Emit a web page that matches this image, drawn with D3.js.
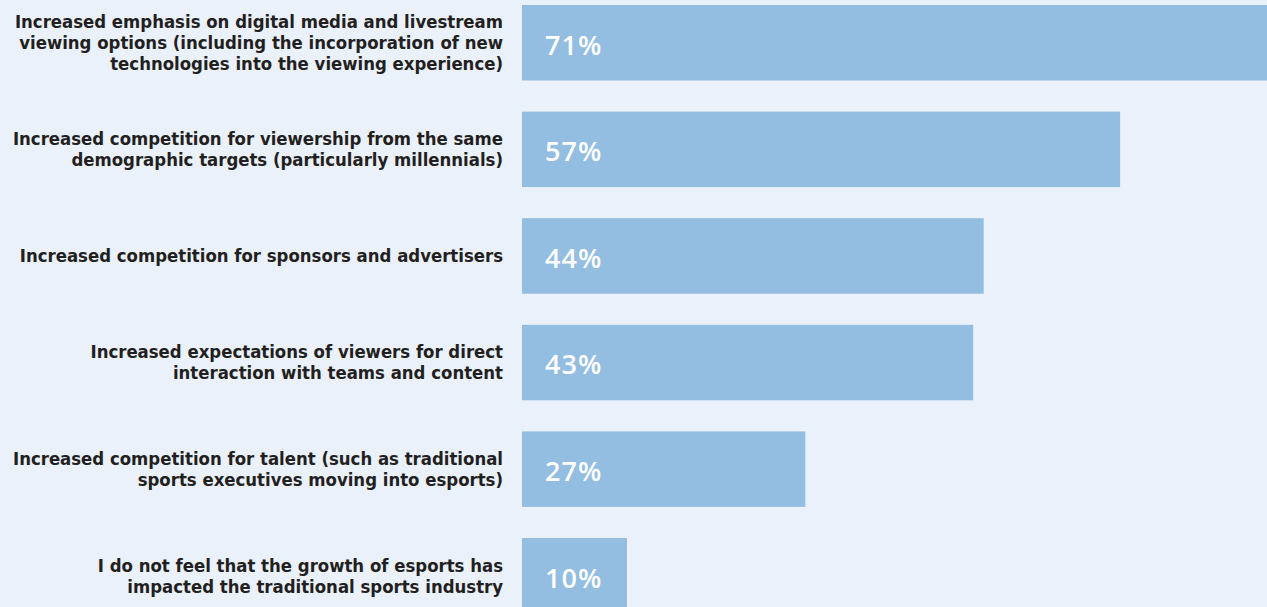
<!DOCTYPE html>
<html>
<head>
<meta charset="utf-8">
<script src="https://cdn.jsdelivr.net/npm/d3@7"></script>
<style>
  html, body { margin: 0; padding: 0; background: #eaf1fb; }
  #chart { width: 1267px; height: 607px; overflow: hidden; }
  .label { font-family: 'DejaVu Sans Condensed', 'DejaVu Sans', sans-serif; font-stretch: condensed; font-weight: bold; font-size: 18.4px; fill: #231f20; }
  .value { font-family: 'Open Sans', sans-serif; font-weight: 600; font-size: 27px; letter-spacing: 1px; fill: #ffffff; }
</style>
</head>
<body>
<div id="chart"></div>
<script>
// categories, one entry per line of the wrapped label
const categories = [
  ['Increased emphasis on digital media and livestream', 'viewing options (including the incorporation of new', 'technologies into the viewing experience)'],
  ['Increased competition for viewership from the same', 'demographic targets (particularly millennials)'],
  ['Increased competition for sponsors and advertisers'],
  ['Increased expectations of viewers for direct', 'interaction with teams and content'],
  ['Increased competition for talent (such as traditional', 'sports executives moving into esports)'],
  ['I do not feel that the growth of esports has', 'impacted the traditional sports industry']
]
const values = [71, 57, 44, 43, 27, 10]

const width = 1267
const height = 607
const margin = { top: 5, left: 522 }

const svg = d3
  .select('#chart')
  .append('svg')
  .attr('width', width)
  .attr('height', height)

svg
  .append('rect')
  .attr('width', width)
  .attr('height', height)
  .attr('fill', '#eaf1fb')

const keys = categories.map((d, i) => i)

const xPositionScale = d3.scaleLinear().domain([0, 71]).range([margin.left, width])

const yPositionScale = d3
  .scaleBand()
  .domain(keys)
  .range([margin.top, 613.5])
  .paddingInner(0.292)
  .paddingOuter(0)

const lineHeight = 21

svg
  .selectAll('.bar')
  .data(keys)
  .enter()
  .append('rect')
  .attr('class', 'bar')
  .attr('x', xPositionScale(0))
  .attr('y', d => yPositionScale(d))
  .attr('width', d => xPositionScale(values[d]) - xPositionScale(0))
  .attr('height', yPositionScale.bandwidth())
  .attr('fill', '#93bde1')

svg
  .selectAll('.value')
  .data(keys)
  .enter()
  .append('text')
  .attr('class', 'value')
  .attr('x', xPositionScale(0) + 23)
  .attr('y', d => yPositionScale(d) + yPositionScale.bandwidth() / 2)
  .attr('dy', '0.44em')
  .text(d => values[d] + '%')

const labels = svg
  .selectAll('.label')
  .data(keys)
  .enter()
  .append('text')
  .attr('class', 'label')
  .attr('text-anchor', 'end')

labels.each(function(d) {
  const lines = categories[d]
  const mid = yPositionScale(d) + yPositionScale.bandwidth() / 2
  const first = mid - ((lines.length - 1) * lineHeight) / 2
  d3.select(this)
    .selectAll('tspan')
    .data(lines)
    .enter()
    .append('tspan')
    .attr('x', 503)
    .attr('y', (l, i) => first + i * lineHeight)
    .attr('dy', '0.35em')
    .text(l => l)
})
</script>
</body>
</html>
